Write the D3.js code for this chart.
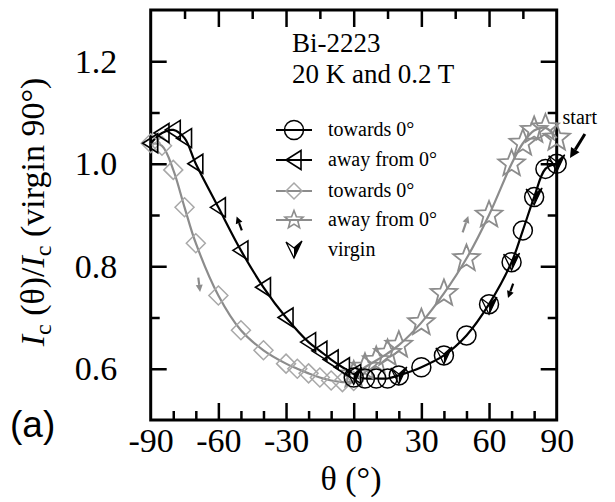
<!DOCTYPE html>
<html>
<head>
<meta charset="utf-8">
<script src="https://cdn.jsdelivr.net/npm/d3@7.9.0/dist/d3.min.js"></script>
<style>
  body { margin: 0; background: #fff; }
  svg { display: block; }
  text { font-family: "Liberation Serif", "Times New Roman", serif; fill: #000; }
</style>
</head>
<body>
<div id="chart"></div>
<script>
// towards 0° (black circles), measured 90 -> 0
const circTheta = [90, 85, 80, 75, 70, 60, 50, 40, 30, 20, 15, 10, 5, 0];
const circVal = [1.0, 0.99, 0.935, 0.87, 0.808, 0.726, 0.665, 0.626, 0.603, 0.587, 0.581, 0.581, 0.581, 0.583];

// away from 0° (black triangles), 0 -> -90
const triTheta = [0, -5, -10, -15, -20, -30, -40, -50, -60, -70, -75, -80, -85, -90];
const triVal = [0.59, 0.603, 0.618, 0.635, 0.652, 0.70, 0.759, 0.831, 0.915, 1.0, 1.05, 1.066, 1.06, 1.04];

// towards 0° (grey diamonds), -90 -> 0
const diaTheta = [-90, -85, -80, -75, -70, -60, -50, -40, -30, -25, -20, -15, -10, -5, 0];
const diaVal = [1.04, 1.035, 0.988, 0.915, 0.845, 0.743, 0.675, 0.636, 0.61, 0.60, 0.591, 0.583, 0.577, 0.574, 0.576];

// away from 0° (grey stars), 0 -> 90
const starTheta = [0, 5, 10, 15, 20, 30, 40, 50, 60, 70, 75, 80, 85, 90];
const starVal = [0.588, 0.603, 0.616, 0.63, 0.646, 0.69, 0.747, 0.815, 0.9, 1.0, 1.04, 1.065, 1.07, 1.05];

// virgin run
const virTheta = [90, 80, 70, 60, 40, 20, 0];
const virVal = [1.0, 0.935, 0.808, 0.722, 0.625, 0.586, 0.585];

const yTicks = [0.6, 0.8, 1.0, 1.2];
const xTicks = [-90, -60, -30, 0, 30, 60, 90];
const legendLabels = ['towards 0°', 'away from 0°', 'towards 0°', 'away from 0°', 'virgin'];

// small direction arrows [theta0, val0, theta1, val1, colour]
const arrows = [
  [-49.6, 0.870, -51.9, 0.897, '#000'],
  [-68.9, 0.778, -68.1, 0.750, '#8c8c8c'],
  [48.3, 0.866, 50.8, 0.898, '#8c8c8c'],
  [70.7, 0.766, 68.4, 0.738, '#000']
];

const width = 615;
const height = 502;
const GREY = '#8c8c8c';
const LIGHT = '#a8a8a8';

const x = d3.scaleLinear().domain([-90, 90]).range([150.7, 556.7]);
const y = d3.scaleLinear().domain([0.5, 1.3]).range([420, 10]);

const svg = d3.select('#chart').append('svg')
  .attr('width', width)
  .attr('height', height);

const zip = (t, v) => t.map((d, i) => ({ t: d, v: v[i] }));
const circles = zip(circTheta, circVal);
const tris = zip(triTheta, triVal);
const dias = zip(diaTheta, diaVal);
const stars = zip(starTheta, starVal);
const virgin = zip(virTheta, virVal);

// marker shapes
const triPath = 'M-8,0L7,-9.5L7,9.5Z';
const diamond = h => `M0,${-h}L${h},0L0,${h}L${-h},0Z`;
function starPath(R) {
  const r = R * 0.43;
  const pts = [];
  for (let i = 0; i < 10; i++) {
    const a = -Math.PI / 2 + i * Math.PI / 5;
    const rr = i % 2 ? r : R;
    pts.push([rr * Math.cos(a), rr * Math.sin(a)]);
  }
  return 'M' + pts.join('L') + 'Z';
}
const virOutline = 'M-8,-8L0,8L8,-9L0,-2Z';
const virFill = 'M0,8L8,-9L0,-2Z';

// axes (inward ticks, major + minor)
function tickAxis(axis, scale, values, size, transform) {
  const g = svg.append('g')
    .attr('transform', transform)
    .call(axis(scale).tickValues(values).tickSize(size).tickFormat(''));
  g.select('.domain').remove();
  g.selectAll('line').attr('stroke', '#000').attr('stroke-width', 2.5);
  return g;
}
const atBottom = 'translate(0,420)';
const atTop = 'translate(0,10)';
const atLeft = 'translate(150.7,0)';
const atRight = 'translate(556.7,0)';
tickAxis(d3.axisBottom, x, d3.range(-80, 90, 10).filter(d => d % 30 !== 0), -9, atBottom);
tickAxis(d3.axisBottom, x, [-60, -30, 0, 30, 60], -17, atBottom);
tickAxis(d3.axisTop, x, [-75, -45, -15, 15, 45, 75], -9, atTop);
tickAxis(d3.axisTop, x, [-60, -30, 0, 30, 60], -17, atTop);
tickAxis(d3.axisLeft, y, [0.7, 0.9, 1.1], -9, atLeft);
tickAxis(d3.axisLeft, y, [0.6, 0.8, 1.0, 1.2], -16, atLeft);
tickAxis(d3.axisRight, y, [0.7, 0.9, 1.1], -9, atRight);
tickAxis(d3.axisRight, y, [0.6, 0.8, 1.0, 1.2], -16, atRight);

// tick labels
const xl = svg.append('g')
  .attr('transform', atBottom)
  .call(d3.axisBottom(x).tickValues(xTicks).tickSize(0).tickPadding(8).tickFormat(d => d));
xl.select('.domain').remove();
xl.selectAll('text').style('font-size', '34px').style('font-family', '"Liberation Serif", serif').attr('fill', '#000');

const yl = svg.append('g')
  .attr('transform', atLeft)
  .call(d3.axisLeft(y).tickValues(yTicks).tickSize(0).tickPadding(33.5).tickFormat(d3.format('.1f')));
yl.select('.domain').remove();
yl.selectAll('text').style('font-size', '34px').style('font-family', '"Liberation Serif", serif').attr('fill', '#000');

// frame
svg.append('rect')
  .attr('x', x(-90)).attr('y', y(1.3))
  .attr('width', x(90) - x(-90)).attr('height', y(0.5) - y(1.3))
  .attr('fill', 'none').attr('stroke', '#000').attr('stroke-width', 3);

// fitted curves
const line = d3.line().x(d => x(d.t)).y(d => y(d.v)).curve(d3.curveCatmullRom.alpha(0.5));
svg.append('path').datum(dias).attr('d', line).attr('fill', 'none').attr('stroke', GREY).attr('stroke-width', 2.2);
svg.append('path').datum(stars).attr('d', line).attr('fill', 'none').attr('stroke', GREY).attr('stroke-width', 2.2);
svg.append('path').datum(tris).attr('d', line).attr('fill', 'none').attr('stroke', '#000').attr('stroke-width', 2.2);
svg.append('path').datum(circles).attr('d', line).attr('fill', 'none').attr('stroke', '#000').attr('stroke-width', 2.2);

// markers
const pos = d => `translate(${x(d.t)},${y(d.v)})`;
svg.append('g').selectAll('path').data(dias).join('path')
  .attr('transform', pos).attr('d', diamond(9.5))
  .attr('fill', 'none').attr('stroke', LIGHT).attr('stroke-width', 1.5);
svg.append('g').selectAll('path').data(stars).join('path')
  .attr('transform', pos).attr('d', starPath(14))
  .attr('fill', 'none').attr('stroke', GREY).attr('stroke-width', 1.8);
svg.append('g').selectAll('path').data(tris).join('path')
  .attr('transform', pos).attr('d', triPath)
  .attr('fill', 'none').attr('stroke', '#000').attr('stroke-width', 1.6);
svg.append('g').selectAll('circle').data(circles).join('circle')
  .attr('cx', d => x(d.t)).attr('cy', d => y(d.v)).attr('r', 9.5)
  .attr('fill', 'none').attr('stroke', '#000').attr('stroke-width', 1.5);
const vg = svg.append('g').selectAll('g').data(virgin).join('g').attr('transform', pos);
vg.append('path').attr('d', virOutline).attr('fill', 'none').attr('stroke', '#000').attr('stroke-width', 1.3);
vg.append('path').attr('d', virFill).attr('fill', '#000');

// direction arrows
function arrow(x0, y0, x1, y1, color, w, head) {
  const a = Math.atan2(y1 - y0, x1 - x0);
  const bx = x1 - head * Math.cos(a);
  const by = y1 - head * Math.sin(a);
  svg.append('line').attr('x1', x0).attr('y1', y0).attr('x2', bx).attr('y2', by)
    .attr('stroke', color).attr('stroke-width', w);
  const hw = head * 0.5;
  svg.append('path')
    .attr('d', `M${x1},${y1}L${bx + hw * Math.sin(a)},${by - hw * Math.cos(a)}L${bx - hw * Math.sin(a)},${by + hw * Math.cos(a)}Z`)
    .attr('fill', color);
}
arrows.forEach(([t0, v0, t1, v1, c]) => arrow(x(t0), y(v0), x(t1), y(v1), c, 2.2, 7));

// "start" marker
arrow(x(102.5), y(1.058), x(95.9), y(1.011), '#000', 3, 10);
svg.append('text').attr('x', x(92.6)).attr('y', y(1.078)).style('font-size', '20px').text('start');

// sample label
svg.append('text').attr('x', 292).attr('y', 52).style('font-size', '27px').text('Bi-2223');
svg.append('text').attr('x', 292).attr('y', 83).style('font-size', '27px').text('20 K and 0.2 T');

// legend
const legendY = [130, 160, 191, 220, 250];
const leg = svg.append('g');
legendLabels.forEach((lab, i) => {
  const g = leg.append('g').attr('transform', `translate(294,${legendY[i]})`);
  if (i === 0 || i === 1) g.append('line').attr('x1', -18).attr('x2', 18).attr('stroke', '#000').attr('stroke-width', 2.2);
  if (i === 2 || i === 3) g.append('line').attr('x1', -18).attr('x2', 18).attr('stroke', GREY).attr('stroke-width', 2.2);
  if (i === 0) g.append('circle').attr('r', 9.5).attr('fill', 'none').attr('stroke', '#000').attr('stroke-width', 1.5);
  if (i === 1) g.append('path').attr('d', triPath).attr('fill', 'none').attr('stroke', '#000').attr('stroke-width', 1.6);
  if (i === 2) g.append('path').attr('d', diamond(8)).attr('fill', 'none').attr('stroke', LIGHT).attr('stroke-width', 1.5);
  if (i === 3) g.append('path').attr('d', starPath(9.5)).attr('fill', 'none').attr('stroke', GREY).attr('stroke-width', 1.6);
  if (i === 4) {
    g.append('path').attr('d', virOutline).attr('fill', 'none').attr('stroke', '#000').attr('stroke-width', 1.3);
    g.append('path').attr('d', virFill).attr('fill', '#000');
  }
  leg.append('text').attr('x', 328).attr('y', legendY[i] + 6).style('font-size', '20px').text(lab);
});

// axis titles
svg.append('text')
  .attr('text-anchor', 'middle')
  .attr('transform', 'translate(44,212) rotate(-90)')
  .style('font-size', '34px')
  .call(t => {
    t.append('tspan').style('font-style', 'italic').text('I');
    t.append('tspan').attr('dy', 7).style('font-size', '24px').text('c');
    t.append('tspan').attr('dy', -7).text(' (θ)/');
    t.append('tspan').style('font-style', 'italic').text('I');
    t.append('tspan').attr('dy', 7).style('font-size', '24px').text('c');
    t.append('tspan').attr('dy', -7).text(' (virgin 90°)');
  });

svg.append('text').attr('x', 351).attr('y', 490).attr('text-anchor', 'middle')
  .style('font-size', '34px').text('θ (°)');

svg.append('text').attr('x', 10).attr('y', 437)
  .style('font-family', '"Liberation Sans", Arial, sans-serif')
  .style('font-size', '37px').text('(a)');
</script>
</body>
</html>
